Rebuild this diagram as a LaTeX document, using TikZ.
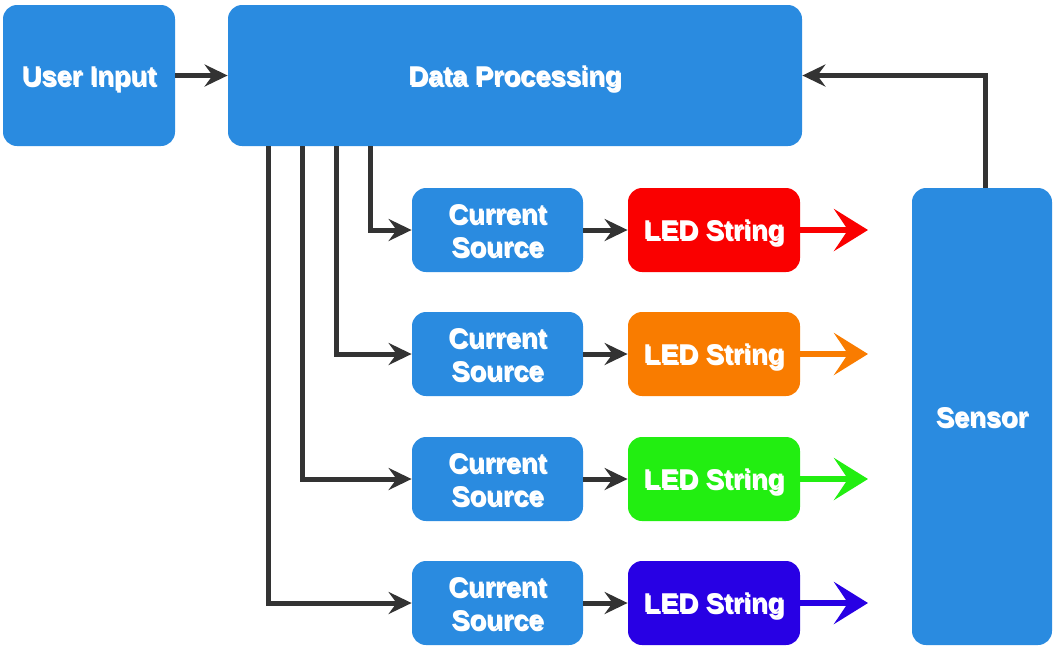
\documentclass[tikz,border=0pt]{standalone}
\usepackage{fontspec}
\setmainfont{Liberation Sans}
\usetikzlibrary{arrows.meta}
\definecolor{boxblue}{RGB}{42,139,224}
\definecolor{ledred}{RGB}{250,0,0}
\definecolor{ledorange}{RGB}{249,124,0}
\definecolor{ledgreen}{RGB}{34,238,17}
\definecolor{ledblue}{RGB}{40,0,228}
\definecolor{linegray}{RGB}{51,51,51}
\newsavebox\txtbox
\newcommand\shd[1]{\sbox\txtbox{\begin{tabular}{@{}c@{}}#1\end{tabular}}%
  \raisebox{-1.6pt}[\ht\txtbox][\dp\txtbox]{\rlap{\kern0.7pt\raisebox{-0.9pt}{\textcolor{black!40}{\usebox\txtbox}}}\usebox\txtbox}}
\tikzset{
  blk/.style={rounded corners=7pt, fill=boxblue, text=white, inner sep=0pt,
    font=\fontsize{13.6}{16.5}\selectfont\bfseries, align=center},
  conn/.style={draw=linegray, line width=2.5pt,
    -{Stealth[length=11.5pt,width=11pt,inset=4pt]}},
  ledarrow/.style={line width=3pt,
    -{Stealth[length=17pt,width=21pt,inset=7pt]}}
}
\begin{document}
\begin{tikzpicture}[x=0.5pt,y=-0.5pt]
\useasboundingbox (0,0) rectangle (1057,650);
% main boxes
\node[blk, minimum width=86pt, minimum height=70.5pt] (ui) at (89,75.5) {\shd{User Input}};
\node[blk, minimum width=287pt, minimum height=70.5pt] (dp) at (515,75.5) {\shd{Data Processing}};
\node[blk, minimum width=70pt, minimum height=228.5pt] (sen) at (982,416.5) {\shd{Sensor}};
% rows
\foreach \i/\y/\c in {1/230/ledred, 2/354/ledorange, 3/479/ledgreen, 4/603/ledblue}{
  \node[blk, minimum width=85.5pt, minimum height=42pt] (cs\i) at (497.5,\y) {\shd{Current\\Source}};
  \node[blk, fill=\c, minimum width=86pt, minimum height=42pt] (led\i) at (714,\y) {\shd{LED String}};
  \coordinate (out\i) at (868,\y);
  \draw[conn] (cs\i) -- (led\i);
  \draw[ledarrow, draw=\c, fill=\c] (led\i.east) -- (out\i);
}
% connectors
\draw[conn] (ui) -- (dp);
\draw[conn] (sen.north -| 985,0) |- (dp.east);
\draw[conn] (dp.south -| 370,0) |- (cs1.west);
\draw[conn] (dp.south -| 336,0) |- (cs2.west);
\draw[conn] (dp.south -| 302,0) |- (cs3.west);
\draw[conn] (dp.south -| 268,0) |- (cs4.west);
\end{tikzpicture}
\end{document}
